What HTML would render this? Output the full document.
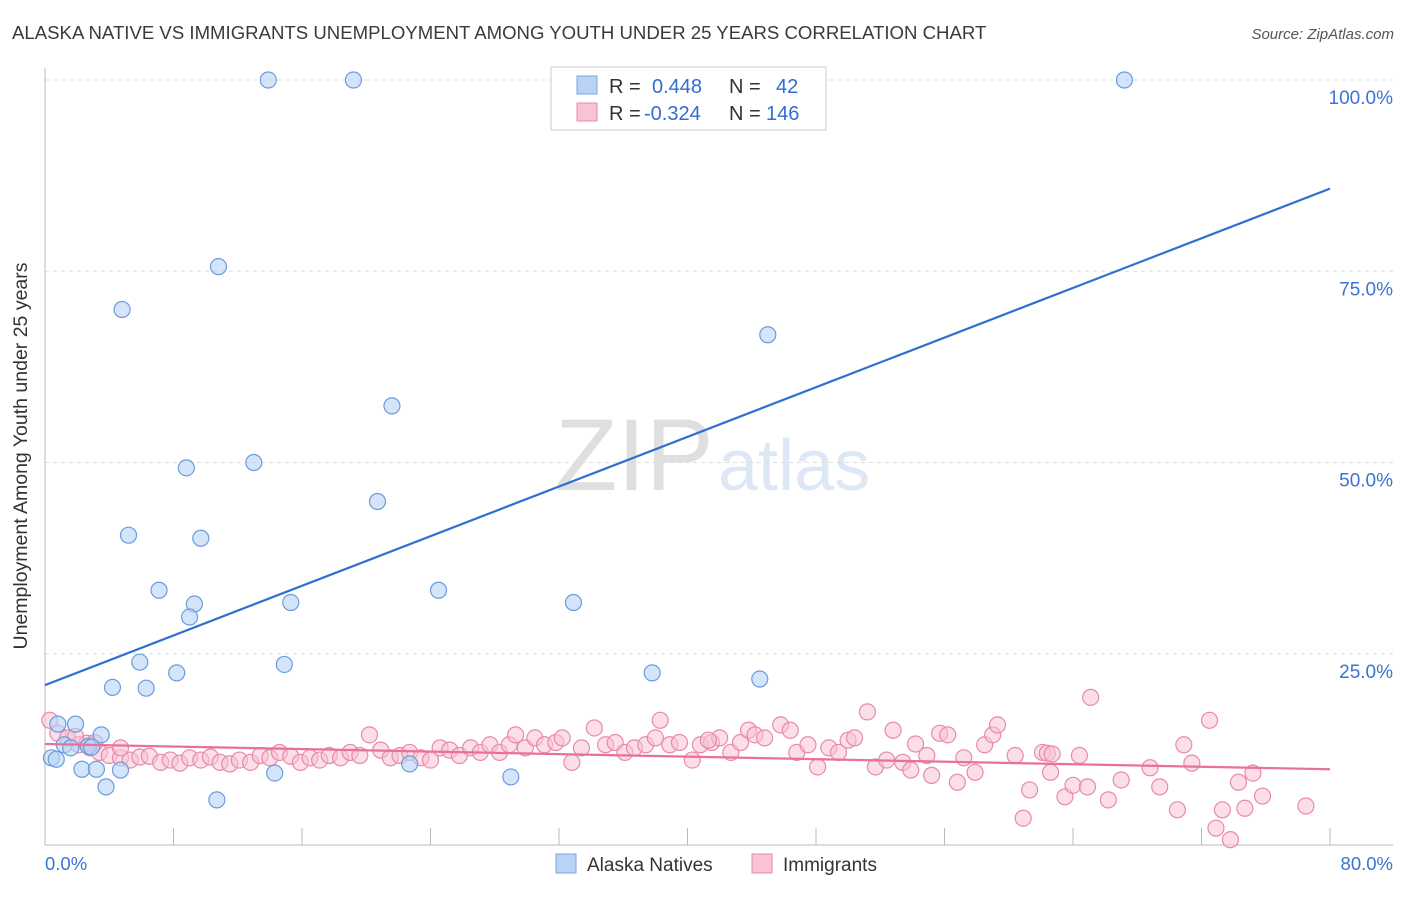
<!DOCTYPE html>
<html><head><meta charset="utf-8">
<style>
body{margin:0;background:#fff;font-family:"Liberation Sans",sans-serif;}
svg text{font-family:"Liberation Sans",sans-serif;}
</style></head>
<body>
<svg width="1406" height="892" viewBox="0 0 1406 892" id="chart">
<text x="12" y="39" font-size="18.6" fill="#3a3a3a">ALASKA NATIVE VS IMMIGRANTS UNEMPLOYMENT AMONG YOUTH UNDER 25 YEARS CORRELATION CHART</text>
<text x="1394" y="39" font-size="15" fill="#555" font-style="italic" text-anchor="end">Source: ZipAtlas.com</text>
<g opacity="0.18">
<text x="555" y="490" font-size="102" font-family="Liberation Serif" fill="#555">ZIP</text>
<text x="718" y="490" font-size="72" fill="#4a7fd0">atlas</text>
</g>
<g id="grid"></g>
<g id="axes"></g>
<g id="pts"></g>
<g id="lines"></g>
<text x="27" y="456" font-size="19.5" fill="#333" text-anchor="middle" transform="rotate(-90 27 456)">Unemployment Among Youth under 25 years</text>
<g>
<rect x="551" y="67" width="275" height="63" fill="#fff" stroke="#ccc"/>
<rect x="577" y="76" width="20" height="18" fill="#b8d3f5" stroke="#7aa6e0"/>
<rect x="577" y="103" width="20" height="18" fill="#f8c3d4" stroke="#e88aa8"/>
<text x="609" y="93" font-size="20" fill="#333">R = <tspan fill="#2f6fd0" x="652">0.448</tspan><tspan fill="#333" x="729">N =</tspan><tspan fill="#2f6fd0" x="776">42</tspan></text>
<text x="609" y="120" font-size="20" fill="#333">R = <tspan fill="#2f6fd0" x="644">-0.324</tspan><tspan fill="#333" x="729">N =</tspan><tspan fill="#2f6fd0" x="766">146</tspan></text>
</g>
<g>
<rect x="556" y="854" width="20" height="19" fill="#b8d3f5" stroke="#7aa6e0"/>
<text x="587" y="871" font-size="19" fill="#333">Alaska Natives</text>
<rect x="752" y="854" width="20" height="19" fill="#f8c3d4" stroke="#e88aa8"/>
<text x="783" y="871" font-size="19" fill="#333">Immigrants</text>
</g>
</svg>
<script>
const blueX=[13.9,19.2,67.2,10.8,4.8,45.0,21.6,8.8,13.0,20.7,5.2,9.7,7.1,24.5,9.3,15.3,32.9,9.0,5.9,14.9,4.2,6.3,8.2,37.8,44.5,0.8,1.9,3.5,1.2,2.7,2.9,0.4,0.7,2.3,3.2,4.7,3.8,10.7,14.3,22.7,29.0,1.6];
const blueY=[100,100,100,75.6,70.0,66.7,57.4,49.3,50.0,44.9,40.5,40.1,33.3,33.3,31.5,31.7,31.7,29.8,23.9,23.6,20.6,20.5,22.5,22.5,21.7,15.8,15.8,14.4,13.1,12.9,12.8,11.4,11.2,9.9,9.9,9.8,7.6,5.9,9.4,10.6,8.9,12.7];
const pinkX=[0.3,0.8,1.4,2.1,2.8,3.4,4.0,4.7,5.3,5.9,6.5,7.2,7.8,8.4,9.0,9.7,10.3,10.9,11.5,12.1,12.8,13.4,14.0,14.6,15.3,15.9,16.5,17.1,17.7,18.4,19.0,19.6,20.2,20.9,21.5,22.1,22.7,23.4,24.0,24.6,25.2,25.8,26.5,27.1,27.7,28.3,28.9,29.3,29.9,30.5,31.1,31.8,32.2,32.8,33.4,34.2,34.9,35.5,36.1,36.7,37.4,38.0,38.3,38.9,39.5,40.3,40.8,41.5,42.0,42.7,43.3,43.8,44.2,44.8,45.8,46.4,46.8,47.5,48.1,48.8,49.4,50.0,50.4,51.2,51.7,52.4,52.8,53.4,53.9,54.2,54.9,55.2,55.7,56.2,56.8,57.2,57.9,58.5,59.0,59.3,60.4,60.9,61.3,62.1,62.4,62.6,63.5,64.0,64.4,64.9,65.1,66.2,67.0,68.8,69.4,70.5,70.9,71.4,72.5,72.9,73.3,73.8,74.3,74.7,75.2,75.8,78.5,62.7,41.3,4.7,2.6,1.9,3.1];
const pinkY=[16.3,14.6,14.0,13.1,12.7,12.1,11.7,11.4,11.1,11.5,11.6,10.8,11.1,10.7,11.4,11.1,11.5,10.8,10.6,11.1,10.8,11.7,11.4,12.1,11.6,10.8,11.4,11.1,11.7,11.4,12.1,11.7,14.4,12.4,11.4,11.7,12.1,11.4,11.1,12.7,12.4,11.7,12.7,12.1,13.1,12.1,13.1,14.4,12.7,14.0,13.1,13.4,14.0,10.8,12.7,15.3,13.1,13.4,12.1,12.7,13.1,14.0,16.3,13.1,13.4,11.1,13.1,13.4,14.0,12.1,13.4,15.0,14.4,14.0,15.7,15.0,12.1,13.1,10.2,12.7,12.1,13.7,14.0,17.4,10.2,11.1,15.0,10.8,9.8,13.2,11.7,9.1,14.6,14.4,8.2,11.4,9.5,13.1,14.4,15.7,11.7,3.5,7.2,12.1,12.0,9.5,6.3,7.8,11.7,7.6,19.3,5.9,8.5,10.1,7.6,4.6,13.1,10.7,16.3,2.2,4.6,0.7,8.2,4.8,9.4,6.4,5.1,11.9,13.7,12.7,13.3,14.2,13.4];
const blueLine=[0,20.9,80,85.8];
const pinkLine=[0,13.2,80,9.9];
const yTicks=[25,50,75,100];
const xTickLabels=["0.0%","80.0%"];

const NS="http://www.w3.org/2000/svg";
const X0=45,X1=1330,Y0=845,Y1=80;
const sx=v=>X0+(v/80)*(X1-X0);
const sy=v=>Y0-(v/100)*(Y0-Y1);
function mk(tag,attrs,parent){const e=document.createElementNS(NS,tag);for(const k in attrs)e.setAttribute(k,attrs[k]);parent.appendChild(e);return e;}
const grid=document.getElementById('grid'),axes=document.getElementById('axes'),pts=document.getElementById('pts'),lines=document.getElementById('lines');
yTicks.forEach(t=>{
 const l=mk('line',{x1:X0,x2:1393,y1:sy(t),y2:sy(t),stroke:'#ddd','stroke-dasharray':'4,4'},grid);
 
 
 const tx=mk('text',{x:1393,y:sy(t)+24,'font-size':19,fill:'#3b74d0','text-anchor':'end'},grid);
 tx.textContent=t.toFixed(1)+'%';
 
 
});
const xa=mk('line',{x1:X0,x2:X1+63,y1:Y0,y2:Y0,stroke:'#bbb'},axes);


const ya=mk('line',{x1:X0,x2:X0,y1:68,y2:Y0,stroke:'#bbb'},axes);


for(let i=0;i<=10;i++){
 const t=mk('line',{x1:sx(i*8),x2:sx(i*8),y1:828,y2:Y0,stroke:'#bbb'},axes);
 
 
}
[[0,'start',45],[80,'end',1393]].forEach((d,i)=>{
 const tx=mk('text',{x:d[2],y:870,'font-size':18.5,fill:'#3b74d0','text-anchor':d[1]},axes);
 tx.textContent=xTickLabels[i];
 
 
});
pinkX.forEach((v,i)=>{
 const c=mk('circle',{cx:sx(v),cy:sy(pinkY[i]),r:8,fill:'#f8c3d4','fill-opacity':0.55,stroke:'#e88aa8','stroke-width':1.2},pts);
 
 
});
blueX.forEach((v,i)=>{
 const c=mk('circle',{cx:sx(v),cy:sy(blueY[i]),r:8,fill:'#b8d3f5','fill-opacity':0.6,stroke:'#6a9be0','stroke-width':1.2},pts);
 
 
});
const bl=mk('line',{x1:sx(blueLine[0]),y1:sy(blueLine[1]),x2:sx(blueLine[2]),y2:sy(blueLine[3]),stroke:'#2f6fd0','stroke-width':2.2},lines);


const pl=mk('line',{x1:sx(pinkLine[0]),y1:sy(pinkLine[1]),x2:sx(pinkLine[2]),y2:sy(pinkLine[3]),stroke:'#e8709a','stroke-width':2.2},lines);


</script>
</body></html>
